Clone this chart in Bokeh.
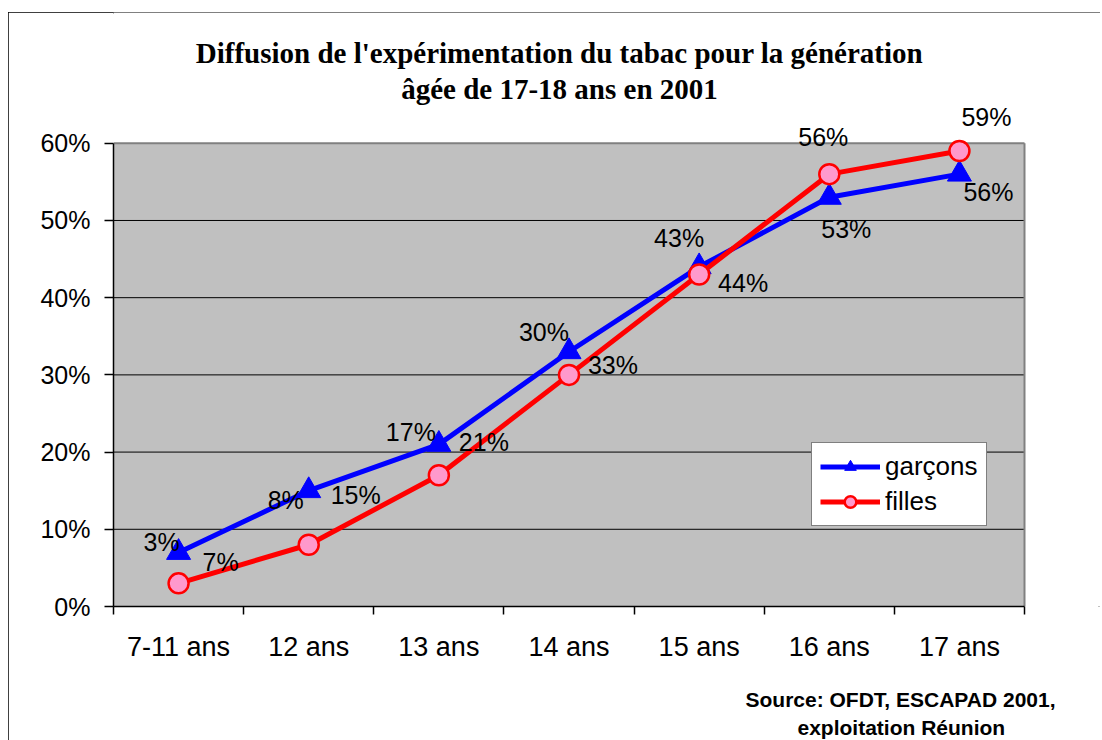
import numpy as np
from bokeh.plotting import figure
from bokeh.core.properties import value
from bokeh.models import (ColumnDataSource, Range1d, FixedTicker, NumeralTickFormatter,
                          LabelSet, Label, Legend, LegendItem, Title)
from bokeh.embed import file_html
from bokeh.resources import INLINE

# ---------------- data ----------------
categories = ["7-11 ans", "12 ans", "13 ans", "14 ans", "15 ans", "16 ans", "17 ans"]
garcons = [7, 15, 21, 33, 44, 53, 56]      # %
filles = [3, 8, 17, 30, 43, 56, 59]        # %
y_ticks = [0, 10, 20, 30, 40, 50, 60]      # %
title_lines = ["Diffusion de l'expérimentation du tabac pour la génération",
               "âgée de 17-18 ans en 2001"]
source_lines = ["Source: OFDT, ESCAPAD 2001,", "exploitation Réunion"]
series_names = ["garçons", "filles"]

# label offsets (screen px, styles only; y positive = up)
g_xoff = [42, 47, 45, 44, 44, 17, 29]
g_yoff = [-10, -4, 2, -13, -16, -32, -18]
f_xoff = [-17, -23, -28, -25, -20, -6, 27]
f_yoff = [41, 45, 43, 43, 37, 37, 34]

# ---------------- layout geometry (page px) ----------------
OX, OY = 8, 12                 # canvas origin on page
W, H = 1092, 728               # canvas size
PL, PR, PT, PB = 113, 1024, 143, 607   # plot-area box on page
n = len(categories)
ymax = y_ticks[-1] / 100.0
xs = (PR - PL) / n             # px per category
ys = (PB - PT) / ymax          # px per unit

def X(px):
    return (px - PL) / xs

def Y(py):
    return (PB - py) / ys

p = figure(width=W, height=H, output_backend="svg", toolbar_location=None,
           x_range=Range1d(0, X(OX + W)), y_range=Range1d(0, Y(OY)),
           min_border_left=PL - OX, min_border_right=0,
           min_border_top=0, min_border_bottom=(OY + H) - PB)
p.styles = {"margin-left": f"{OX}px", "margin-top": f"{OY}px",
            "outline": "2px solid black", "outline-offset": "-2px"}
p.background_fill_color = "white"
p.border_fill_color = "white"
p.outline_line_color = None

xc = np.arange(n) + 0.5
src = ColumnDataSource(dict(
    x=xc,
    g=np.array(garcons) / 100.0,
    f=np.array(filles) / 100.0,
    gt=[f"{v}%" for v in garcons],
    ft=[f"{v}%" for v in filles],
    gxo=g_xoff, gyo=g_yoff, fxo=f_xoff, fyo=f_yoff,
))

# plot area background, grid and border
p.quad(left=0, right=n, bottom=0, top=ymax, fill_color="#c0c0c0",
       line_color=None, level="image")
inner = [v / 100.0 for v in y_ticks[1:-1]]
p.segment(x0=[0] * len(inner), x1=[n] * len(inner), y0=inner, y1=inner,
          line_color="black", line_width=1, level="underlay")
p.segment(x0=[0, n], x1=[n, n], y0=[ymax, 0], y1=[ymax, ymax],
          line_color="#808080", line_width=2, level="underlay")
p.xgrid.visible = False
p.ygrid.visible = False

# axes
xa = p.xaxis[0]
xa.bounds = (0, n)
xa.ticker = FixedTicker(ticks=list(xc), minor_ticks=list(range(n + 1)))
xa.major_label_overrides = {float(v): c for v, c in zip(xc, categories)}
xa.major_tick_in = 0
xa.major_tick_out = 0
xa.minor_tick_in = 0
xa.minor_tick_out = 8
xa.minor_tick_line_color = "black"
xa.minor_tick_line_width = 1.5
xa.axis_line_color = "black"
xa.axis_line_width = 1.5
xa.major_label_standoff = 17
xa.major_label_text_font = "Liberation Sans"
xa.major_label_text_font_size = "27px"
xa.major_label_text_color = "black"

ya = p.yaxis[0]
ya.bounds = (0, ymax)
ya.ticker = FixedTicker(ticks=[v / 100.0 for v in y_ticks])
ya.formatter = NumeralTickFormatter(format="0%")
ya.major_tick_in = 0
ya.major_tick_out = 9
ya.minor_tick_line_color = None
ya.major_tick_line_color = "black"
ya.major_tick_line_width = 1.5
ya.axis_line_color = "black"
ya.axis_line_width = 1.5
ya.major_label_standoff = 14
ya.major_label_text_font = "Liberation Sans"
ya.major_label_text_font_size = "25px"
ya.major_label_text_color = "black"

# series
gl = p.line("x", "g", source=src, line_color="#0000ff", line_width=5)
gm = p.scatter("x", "g", source=src, marker="triangle", size=24,
               fill_color="#0000ff", line_color="#0000ff")
fl = p.line("x", "f", source=src, line_color="#ff0000", line_width=5)
fm = p.scatter("x", "f", source=src, marker="circle", size=20,
               fill_color="#ff99cc", line_color="#ff0000", line_width=2.5)

# data labels
for tcol, ycol, xo, yo in [("gt", "g", "gxo", "gyo"), ("ft", "f", "fxo", "fyo")]:
    p.add_layout(LabelSet(x="x", y=ycol, text=tcol, source=src,
                          x_offset=xo, y_offset=yo,
                          text_align="center", text_baseline="middle",
                          text_font=value("Liberation Sans"), text_font_size=value("25px"),
                          text_color="black"))

# legend
leg = Legend(items=[LegendItem(label=series_names[0], renderers=[gl, gm]),
                    LegendItem(label=series_names[1], renderers=[fl, fm])],
             location=(811 - PL, PB - 527))
leg.border_line_color = "black"
leg.border_line_width = 1
leg.background_fill_color = "white"
leg.background_fill_alpha = 1
leg.padding = 8
leg.spacing = 4
leg.margin = 0
leg.glyph_width = 60
leg.glyph_height = 29
leg.label_height = 29
leg.label_standoff = 5
leg.label_text_font = "Liberation Sans"
leg.label_text_font_size = "26px"
leg.label_text_color = "black"
p.add_layout(leg, "center")

# title
for txt, py in zip(title_lines, [53, 89]):
    p.add_layout(Label(x=X(559), y=Y(py), text=txt, text_align="center",
                       text_baseline="alphabetic", text_font="Liberation Serif",
                       text_font_style="bold", text_font_size="29px", text_color="black"))

# source (spacer + two lines below the category axis)
p.add_layout(Title(text=" ", text_font_size="12px", standoff=4), "below")
for txt, left, so in zip(source_lines, [745, 797], [2, 4]):
    p.add_layout(Title(text=txt, align="left", offset=left - PL, standoff=so,
                       text_font="Liberation Sans", text_font_style="bold",
                       text_font_size="21px", text_color="black"), "below")

open("out.html", "w").write(file_html(p, INLINE))
